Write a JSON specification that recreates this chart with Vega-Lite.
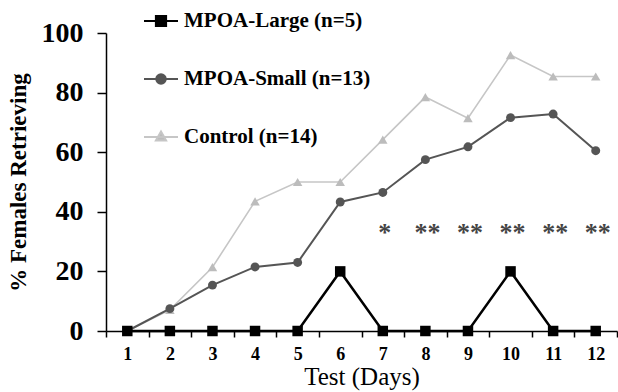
{
  "$schema": "https://vega.github.io/schema/vega-lite/v6.json",
  "width": 511,
  "height": 298,
  "autosize": "none",
  "padding": {"left": 106, "top": 33, "right": 1, "bottom": 61},
  "background": "white",
  "config": {
    "view": {"stroke": null},
    "font": "Liberation Serif, serif",
    "text": {"font": "Liberation Serif, serif"},
    "axis": {"grid": false, "domainColor": "black", "tickColor": "black", "labelColor": "black", "titleColor": "black", "domainWidth": 1.5, "tickWidth": 1.5, "labelFont": "Liberation Serif, serif", "titleFont": "Liberation Serif, serif"},
    "legend": {"labelFont": "Liberation Serif, serif"}
  },
  "datasets": {
    "series": [
      {"day": 1, "group": "MPOA-Large (n=5)", "value": 0},
      {"day": 2, "group": "MPOA-Large (n=5)", "value": 0},
      {"day": 3, "group": "MPOA-Large (n=5)", "value": 0},
      {"day": 4, "group": "MPOA-Large (n=5)", "value": 0},
      {"day": 5, "group": "MPOA-Large (n=5)", "value": 0},
      {"day": 6, "group": "MPOA-Large (n=5)", "value": 20},
      {"day": 7, "group": "MPOA-Large (n=5)", "value": 0},
      {"day": 8, "group": "MPOA-Large (n=5)", "value": 0},
      {"day": 9, "group": "MPOA-Large (n=5)", "value": 0},
      {"day": 10, "group": "MPOA-Large (n=5)", "value": 20},
      {"day": 11, "group": "MPOA-Large (n=5)", "value": 0},
      {"day": 12, "group": "MPOA-Large (n=5)", "value": 0},
      {"day": 1, "group": "MPOA-Small (n=13)", "value": 0},
      {"day": 2, "group": "MPOA-Small (n=13)", "value": 7.5},
      {"day": 3, "group": "MPOA-Small (n=13)", "value": 15.4},
      {"day": 4, "group": "MPOA-Small (n=13)", "value": 21.5},
      {"day": 5, "group": "MPOA-Small (n=13)", "value": 23},
      {"day": 6, "group": "MPOA-Small (n=13)", "value": 43.3},
      {"day": 7, "group": "MPOA-Small (n=13)", "value": 46.5},
      {"day": 8, "group": "MPOA-Small (n=13)", "value": 57.5},
      {"day": 9, "group": "MPOA-Small (n=13)", "value": 61.8},
      {"day": 10, "group": "MPOA-Small (n=13)", "value": 71.6},
      {"day": 11, "group": "MPOA-Small (n=13)", "value": 72.8},
      {"day": 12, "group": "MPOA-Small (n=13)", "value": 60.5},
      {"day": 1, "group": "Control (n=14)", "value": 0},
      {"day": 2, "group": "Control (n=14)", "value": 7.1},
      {"day": 3, "group": "Control (n=14)", "value": 21.4},
      {"day": 4, "group": "Control (n=14)", "value": 43.5},
      {"day": 5, "group": "Control (n=14)", "value": 50},
      {"day": 6, "group": "Control (n=14)", "value": 50},
      {"day": 7, "group": "Control (n=14)", "value": 64.2},
      {"day": 8, "group": "Control (n=14)", "value": 78.5},
      {"day": 9, "group": "Control (n=14)", "value": 71.4},
      {"day": 10, "group": "Control (n=14)", "value": 92.6},
      {"day": 11, "group": "Control (n=14)", "value": 85.4},
      {"day": 12, "group": "Control (n=14)", "value": 85.4}
    ],
    "stars": [
      {"day": 7, "sig": "*", "value": 35},
      {"day": 8, "sig": "**", "value": 35},
      {"day": 9, "sig": "**", "value": 35},
      {"day": 10, "sig": "**", "value": 35},
      {"day": 11, "sig": "**", "value": 35},
      {"day": 12, "sig": "**", "value": 35}
    ]
  },
  "encoding": {
    "x": {
      "field": "day", "type": "quantitative",
      "scale": {"domain": [0.5, 12.5], "nice": false, "zero": false},
      "axis": {
        "values": [0.5, 1.5, 2.5, 3.5, 4.5, 5.5, 6.5, 7.5, 8.5, 9.5, 10.5, 11.5, 12.5],
        "labelExpr": "datum.value < 12 ? format(datum.value + 0.5, 'd') : ''",
        "labelOffset": 21.3,
        "labelFlush": false,
        "labelOverlap": false,
        "labelFontSize": 18,
        "labelFontWeight": "bold",
        "labelPadding": 8,
        "tickSize": 6,
        "title": "Test (Days)",
        "titleFontSize": 25,
        "titleFontWeight": "normal",
        "titlePadding": 1
      }
    },
    "y": {
      "field": "value", "type": "quantitative",
      "scale": {"domain": [0, 100], "nice": false},
      "axis": {
        "values": [0, 20, 40, 60, 80, 100],
        "labelFontSize": 28,
        "labelFontWeight": "bold",
        "labelPadding": 14,
        "tickSize": 9,
        "title": "% Females Retrieving",
        "titleFontSize": 23,
        "titleFontWeight": "bold",
        "titlePadding": 11
      }
    }
  },
  "layer": [
    {
      "data": {"name": "series"},
      "transform": [{"filter": "datum.group === 'Control (n=14)'"}],
      "mark": {"type": "line", "color": "#c6c6c6", "strokeWidth": 1.6, "point": {"shape": "triangle-up", "filled": true, "color": "#bcbcbc", "size": 90}}
    },
    {
      "data": {"name": "series"},
      "transform": [{"filter": "datum.group === 'MPOA-Small (n=13)'"}],
      "mark": {"type": "line", "color": "#555555", "strokeWidth": 2, "point": {"shape": "circle", "filled": true, "color": "#555555", "size": 80}}
    },
    {
      "data": {"name": "series"},
      "transform": [{"filter": "datum.group === 'MPOA-Large (n=5)'"}],
      "mark": {"type": "line", "color": "black", "strokeWidth": 2.5, "point": {"shape": "square", "filled": true, "color": "black", "size": 110}}
    },
    {
      "data": {"name": "stars"},
      "mark": {"type": "text", "fontSize": 26, "fontWeight": "bold", "fill": "#444444", "baseline": "middle", "dy": 6, "dx": 2, "letterSpacing": 5},
      "encoding": {
        "text": {"field": "sig", "type": "nominal"}
      }
    },
    {
      "data": {"name": "series"},
      "transform": [{"filter": "false"}],
      "mark": {"type": "point", "filled": true, "strokeWidth": 2, "opacity": 1},
      "encoding": {
        "shape": {
          "field": "group", "type": "nominal",
          "scale": {
            "domain": ["MPOA-Large (n=5)", "MPOA-Small (n=13)", "Control (n=14)"],
            "range": [
              "M-1,0H1M-0.3,-0.3H0.3V0.3H-0.3Z",
              "M-1,0H1M-0.28,0A0.28,0.28 0 1,0 0.28,0A0.28,0.28 0 1,0 -0.28,0Z",
              "M-1,0H1M0,-0.32L0.3,0.2L-0.3,0.2Z"
            ]
          },
          "legend": {
            "orient": "none", "legendX": 37, "legendY": -30, "title": null,
            "symbolSize": 1156, "symbolStrokeWidth": 2,
            "labelFont": "Liberation Serif, serif", "labelFontSize": 21, "labelFontWeight": "bold", "labelColor": "black", "labelLimit": 0,
            "labelOffset": 5, "rowPadding": 30, "padding": 0
          }
        },
        "fill": {
          "field": "group", "type": "nominal",
          "scale": {"domain": ["MPOA-Large (n=5)", "MPOA-Small (n=13)", "Control (n=14)"], "range": ["black", "#555555", "#bcbcbc"]},
          "legend": {
            "orient": "none", "legendX": 37, "legendY": -30, "title": null,
            "symbolSize": 1156, "symbolStrokeWidth": 2,
            "labelFont": "Liberation Serif, serif", "labelFontSize": 21, "labelFontWeight": "bold", "labelColor": "black", "labelLimit": 0,
            "labelOffset": 5, "rowPadding": 30, "padding": 0
          }
        },
        "stroke": {
          "field": "group", "type": "nominal",
          "scale": {"domain": ["MPOA-Large (n=5)", "MPOA-Small (n=13)", "Control (n=14)"], "range": ["black", "#555555", "#c6c6c6"]},
          "legend": {
            "orient": "none", "legendX": 37, "legendY": -30, "title": null,
            "symbolSize": 1156, "symbolStrokeWidth": 2,
            "labelFont": "Liberation Serif, serif", "labelFontSize": 21, "labelFontWeight": "bold", "labelColor": "black", "labelLimit": 0,
            "labelOffset": 5, "rowPadding": 30, "padding": 0
          }
        }
      }
    }
  ]
}
